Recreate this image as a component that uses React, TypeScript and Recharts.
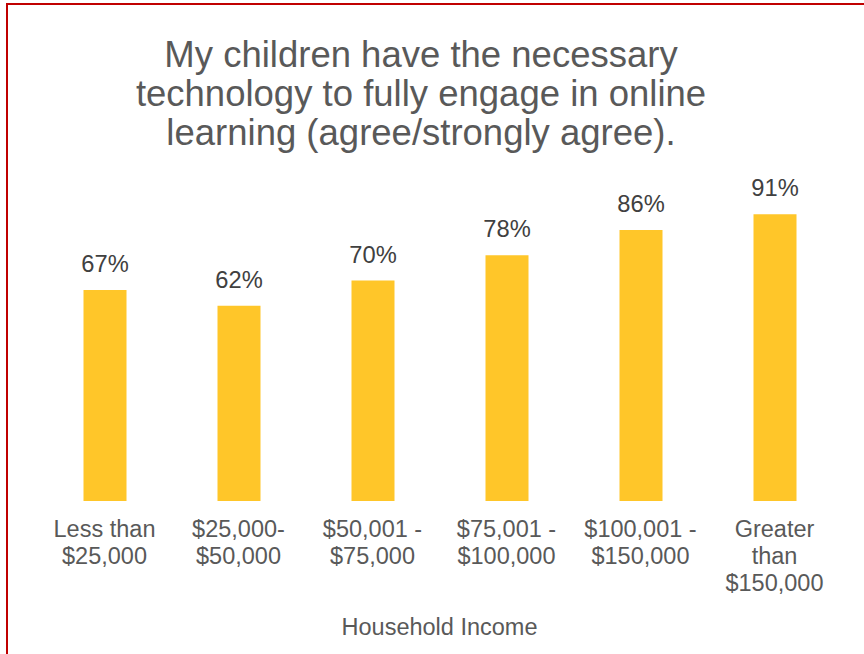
import React from 'react';
import { BarChart, Bar, XAxis, YAxis, LabelList } from 'recharts';

const categories = ['Less than|$25,000', '$25,000-|$50,000', '$50,001 -|$75,000', '$75,001 -|$100,000', '$100,001 -|$150,000', 'Greater|than|$150,000'];
const values = [67, 62, 70, 78, 86, 91];
const titleLines = ['My children have the necessary', 'technology to fully engage in online', 'learning (agree/strongly agree).'];
const xAxisTitle = 'Household Income';

const data = categories.map((c, i) => ({ name: c, value: values[i] }));

const FONT = '"Liberation Sans", Arial, sans-serif';

const Tick = (props: any) => {
  const { x, y, payload } = props;
  const lines = String(payload.value).split('|');
  return (
    <text x={x} y={y} textAnchor="middle" fill="#595959" fontFamily={FONT} fontSize={23.5}>
      {lines.map((l, i) => (
        <tspan key={i} x={x} y={y + 36 + i * 27}>{l}</tspan>
      ))}
    </text>
  );
};

const ValueLabel = (props: any) => {
  const { x, y, width, value } = props;
  return (
    <text x={x + width / 2} y={y - 18} textAnchor="middle" fill="#404040" fontFamily={FONT} fontSize={23.7}>
      {value}%
    </text>
  );
};

const AxisTitle = (props: any) => {
  const vb = props.viewBox || {};
  return (
    <text x={vb.x + vb.width / 2} y={vb.y + 134} textAnchor="middle" fill="#595959" fontFamily={FONT} fontSize={23.5}>
      {xAxisTitle}
    </text>
  );
};

export default function App() {
  return (
    <div style={{ position: 'absolute', left: 0, top: 0, width: 864, height: 654, overflow: 'hidden', background: '#fff' }}>
      <BarChart
        width={864}
        height={654}
        data={data}
        margin={{ top: 186, right: 22.5, left: 37.5, bottom: 0 }}
        barCategoryGap={0}
      >
        <YAxis hide domain={[0, 100]} />
        <XAxis
          dataKey="name"
          axisLine={false}
          tickLine={false}
          tickSize={0}
          tickMargin={0}
          height={153}
          interval={0}
          tick={<Tick />}
          label={<AxisTitle />}
        />
        <Bar dataKey="value" fill="#FFC629" barSize={43} isAnimationActive={false}>
          <LabelList dataKey="value" content={<ValueLabel />} />
        </Bar>
      </BarChart>
      <svg width={864} height={654} style={{ position: 'absolute', left: 0, top: 0, pointerEvents: 'none' }}>
        <rect x={7} y={4} width={900} height={700} fill="none" stroke="#C00000" strokeWidth={2} />
        {titleLines.map((t, i) => (
          <text key={i} x={421} y={67 + i * 39} textAnchor="middle" fill="#595959" fontFamily={FONT} fontSize={36.5}>
            {t}
          </text>
        ))}
      </svg>
    </div>
  );
}
